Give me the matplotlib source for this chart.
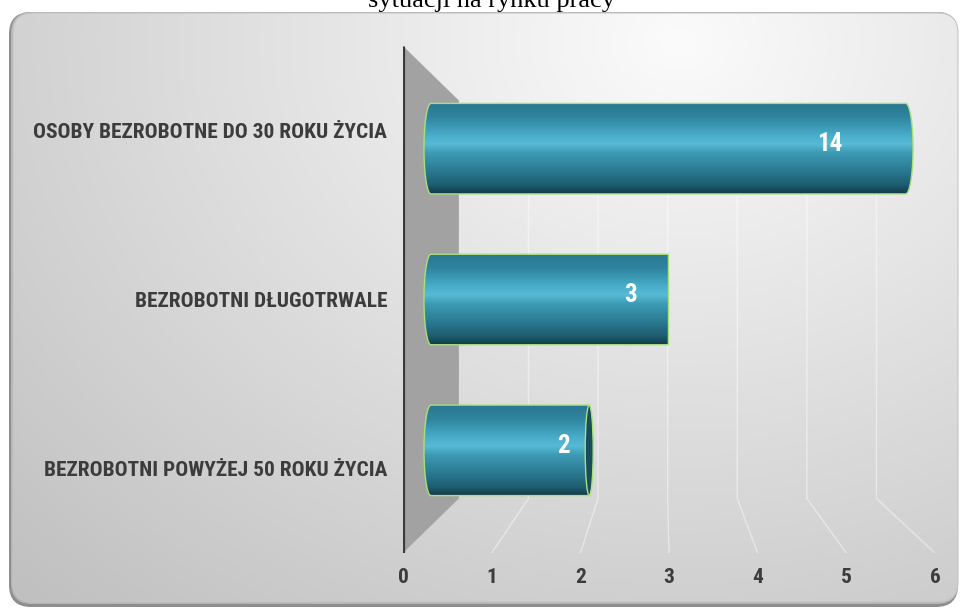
import numpy as np
import matplotlib
matplotlib.use("Agg")
import matplotlib.pyplot as plt
from matplotlib.path import Path
from matplotlib.patches import PathPatch, Polygon, Ellipse, FancyBboxPatch
from matplotlib.colors import LinearSegmentedColormap

# dane
categories = ["OSOBY BEZROBOTNE DO 30 ROKU ŻYCIA",
              "BEZROBOTNI DŁUGOTRWALE",
              "BEZROBOTNI POWYŻEJ 50 ROKU ŻYCIA"]
values = [14, 3, 2]
ticks = [0, 1, 2, 3, 4, 5, 6]
title = "sytuacji na rynku pracy"

XMAX = 6
NARROW = ["Roboto Condensed", "DejaVu Sans"]

# perspektywa "3D" (płaszczyzna przednia = współrzędne danych)
VP_X, VP_Y = 2.93, 1.0
BACK = 0.785
BAR_D = 0.5      # głębokość walców
BAR_H = 0.6      # grubość walca w jednostkach kategorii


def proj(v, c, d):
    s = 1 - (1 - BACK) * d
    return VP_X + (v - VP_X) * s, VP_Y + (c - VP_Y) * s


W, H = 961, 608
fig = plt.figure(figsize=(W / 100, H / 100), dpi=100)
fig.patch.set_facecolor("white")

# tło z zaokrąglonymi rogami
bg = fig.add_axes([0, 0, 1, 1], zorder=0)
bg.set_xlim(0, W)
bg.set_ylim(H, 0)
bg.axis("off")
bg.add_patch(FancyBboxPatch((9, 12), 949, 595, boxstyle="round,pad=0,rounding_size=22",
                            facecolor="#8e8e8e", edgecolor="none", zorder=1))
bg.add_patch(FancyBboxPatch((11, 12), 947, 592, boxstyle="round,pad=0,rounding_size=21",
                            facecolor="#b4b4b4", edgecolor="none", zorder=2))
frame = FancyBboxPatch((13, 13), 945, 589, boxstyle="round,pad=0,rounding_size=20",
                       facecolor="none", edgecolor="#c4c4c4", lw=0.8, zorder=4)
bg.add_patch(frame)
gx, gy = np.meshgrid(np.linspace(0, W, 240), np.linspace(0, H, 160))
bright = 0.985 - 0.17 * np.sqrt(((gx - 680) / 700) ** 2 + ((gy - 40) / 560) ** 2)
im = bg.imshow(np.dstack([bright] * 3), extent=[0, W, H, 0], interpolation="bicubic",
               aspect="auto", zorder=3)
im.set_clip_path(frame)
bg.set_xlim(0, W)
bg.set_ylim(H, 0)

fig.text(491 / W, 1 - 7 / H, title, ha="center", va="baseline",
         family="Liberation Serif", fontsize=19, color="black")

# właściwy wykres
ax = fig.add_axes([403 / W, 55 / H, 532 / W, 507 / H], zorder=1)
ax.set_facecolor("none")
for s in ax.spines.values():
    s.set_visible(False)

# siatka na tylnej ścianie i podłodze
for t in ticks[1:]:
    xa, ya = proj(t, -0.5, 1)
    xb, yb = proj(t, 2.5, 1)
    xc, yc = proj(t, 2.5, 0)
    ax.plot([xa, xb, xc], [ya, yb, yc], color="white", lw=1, alpha=0.45, zorder=1)

# lewa ściana
wall = [proj(0, -0.5, 0), proj(0, -0.5, 1), proj(0, 2.5, 1), proj(0, 2.5, 0)]
ax.add_patch(Polygon(wall, closed=True, facecolor="#a2a2a2", edgecolor="none", zorder=2))
ax.plot([0, 0], [-0.5, 2.5], color="#3a3a3a", lw=2.3, solid_capstyle="butt", zorder=3)

cyl = LinearSegmentedColormap.from_list("cyl", [
    (0.0, "#2a7890"), (0.15, "#2e849e"), (0.36, "#4aaecb"), (0.45, "#58bad5"),
    (0.55, "#3d9ab4"), (0.75, "#2a7990"), (0.9, "#1e5d70"), (1.0, "#123a46")])
grad = np.linspace(0, 1, 256).reshape(-1, 1)
EDGE = "#a8e07c"

for i, v in enumerate(values):
    vv = min(v, XMAX)
    x0, yt = proj(0, i - BAR_H / 2, BAR_D)
    x1, yb = proj(vv, i + BAR_H / 2, BAR_D)
    yc = (yt + yb) / 2
    h = yb - yt
    t = np.linspace(0, np.pi, 40)
    w0 = 0.03 * abs(x0 - VP_X)
    w1 = 0.03 * abs(x1 - VP_X)
    pts = [(x0, yt)]
    if x1 > VP_X:
        pts += list(zip(x1 + w1 * np.sin(t), yc - h / 2 * np.cos(t)))
    else:
        pts += [(x1, yt), (x1, yb)]
    pts += list(zip(x0 - w0 * np.sin(t), yc + h / 2 * np.cos(t)))
    pts.append(pts[0])
    body = PathPatch(Path(pts), facecolor="none", edgecolor=EDGE, lw=1, zorder=6)
    ax.add_patch(body)
    img = ax.imshow(grad, cmap=cyl, extent=[x0 - w0, x1 + w1, yb, yt], origin="upper",
                    aspect="auto", interpolation="bicubic", zorder=5)
    img.set_clip_path(body)
    if x1 <= VP_X:
        wc = max(w1, 0.045)
        ax.add_patch(Ellipse((x1, yc), 2 * wc, h, facecolor="#184d5e",
                             edgecolor=EDGE, lw=1, zorder=7))
    lx, ly = proj(0.84 * vv, i - 0.03, BAR_D)
    ax.text(lx, ly, str(v), ha="center", va="center", color="white",
            fontsize=18, fontweight="bold", family=NARROW, zorder=8)

ax.set_xlim(0, XMAX)
ax.set_ylim(2.5, -0.5)
ax.set_xticks(ticks)
ax.set_xticklabels([str(t) for t in ticks])
ax.set_yticks(range(len(categories)))
ax.set_yticklabels(categories)
ax.tick_params(axis="x", length=0, pad=11, colors="#3c3c3c")
ax.tick_params(axis="y", length=0, pad=11.5, colors="#3c3c3c")
for lab in ax.get_xticklabels() + ax.get_yticklabels():
    lab.set_family(NARROW)
    lab.set_fontweight("semibold")
    lab.set_fontsize(15.4)

fig.savefig("out.png", dpi=100)
